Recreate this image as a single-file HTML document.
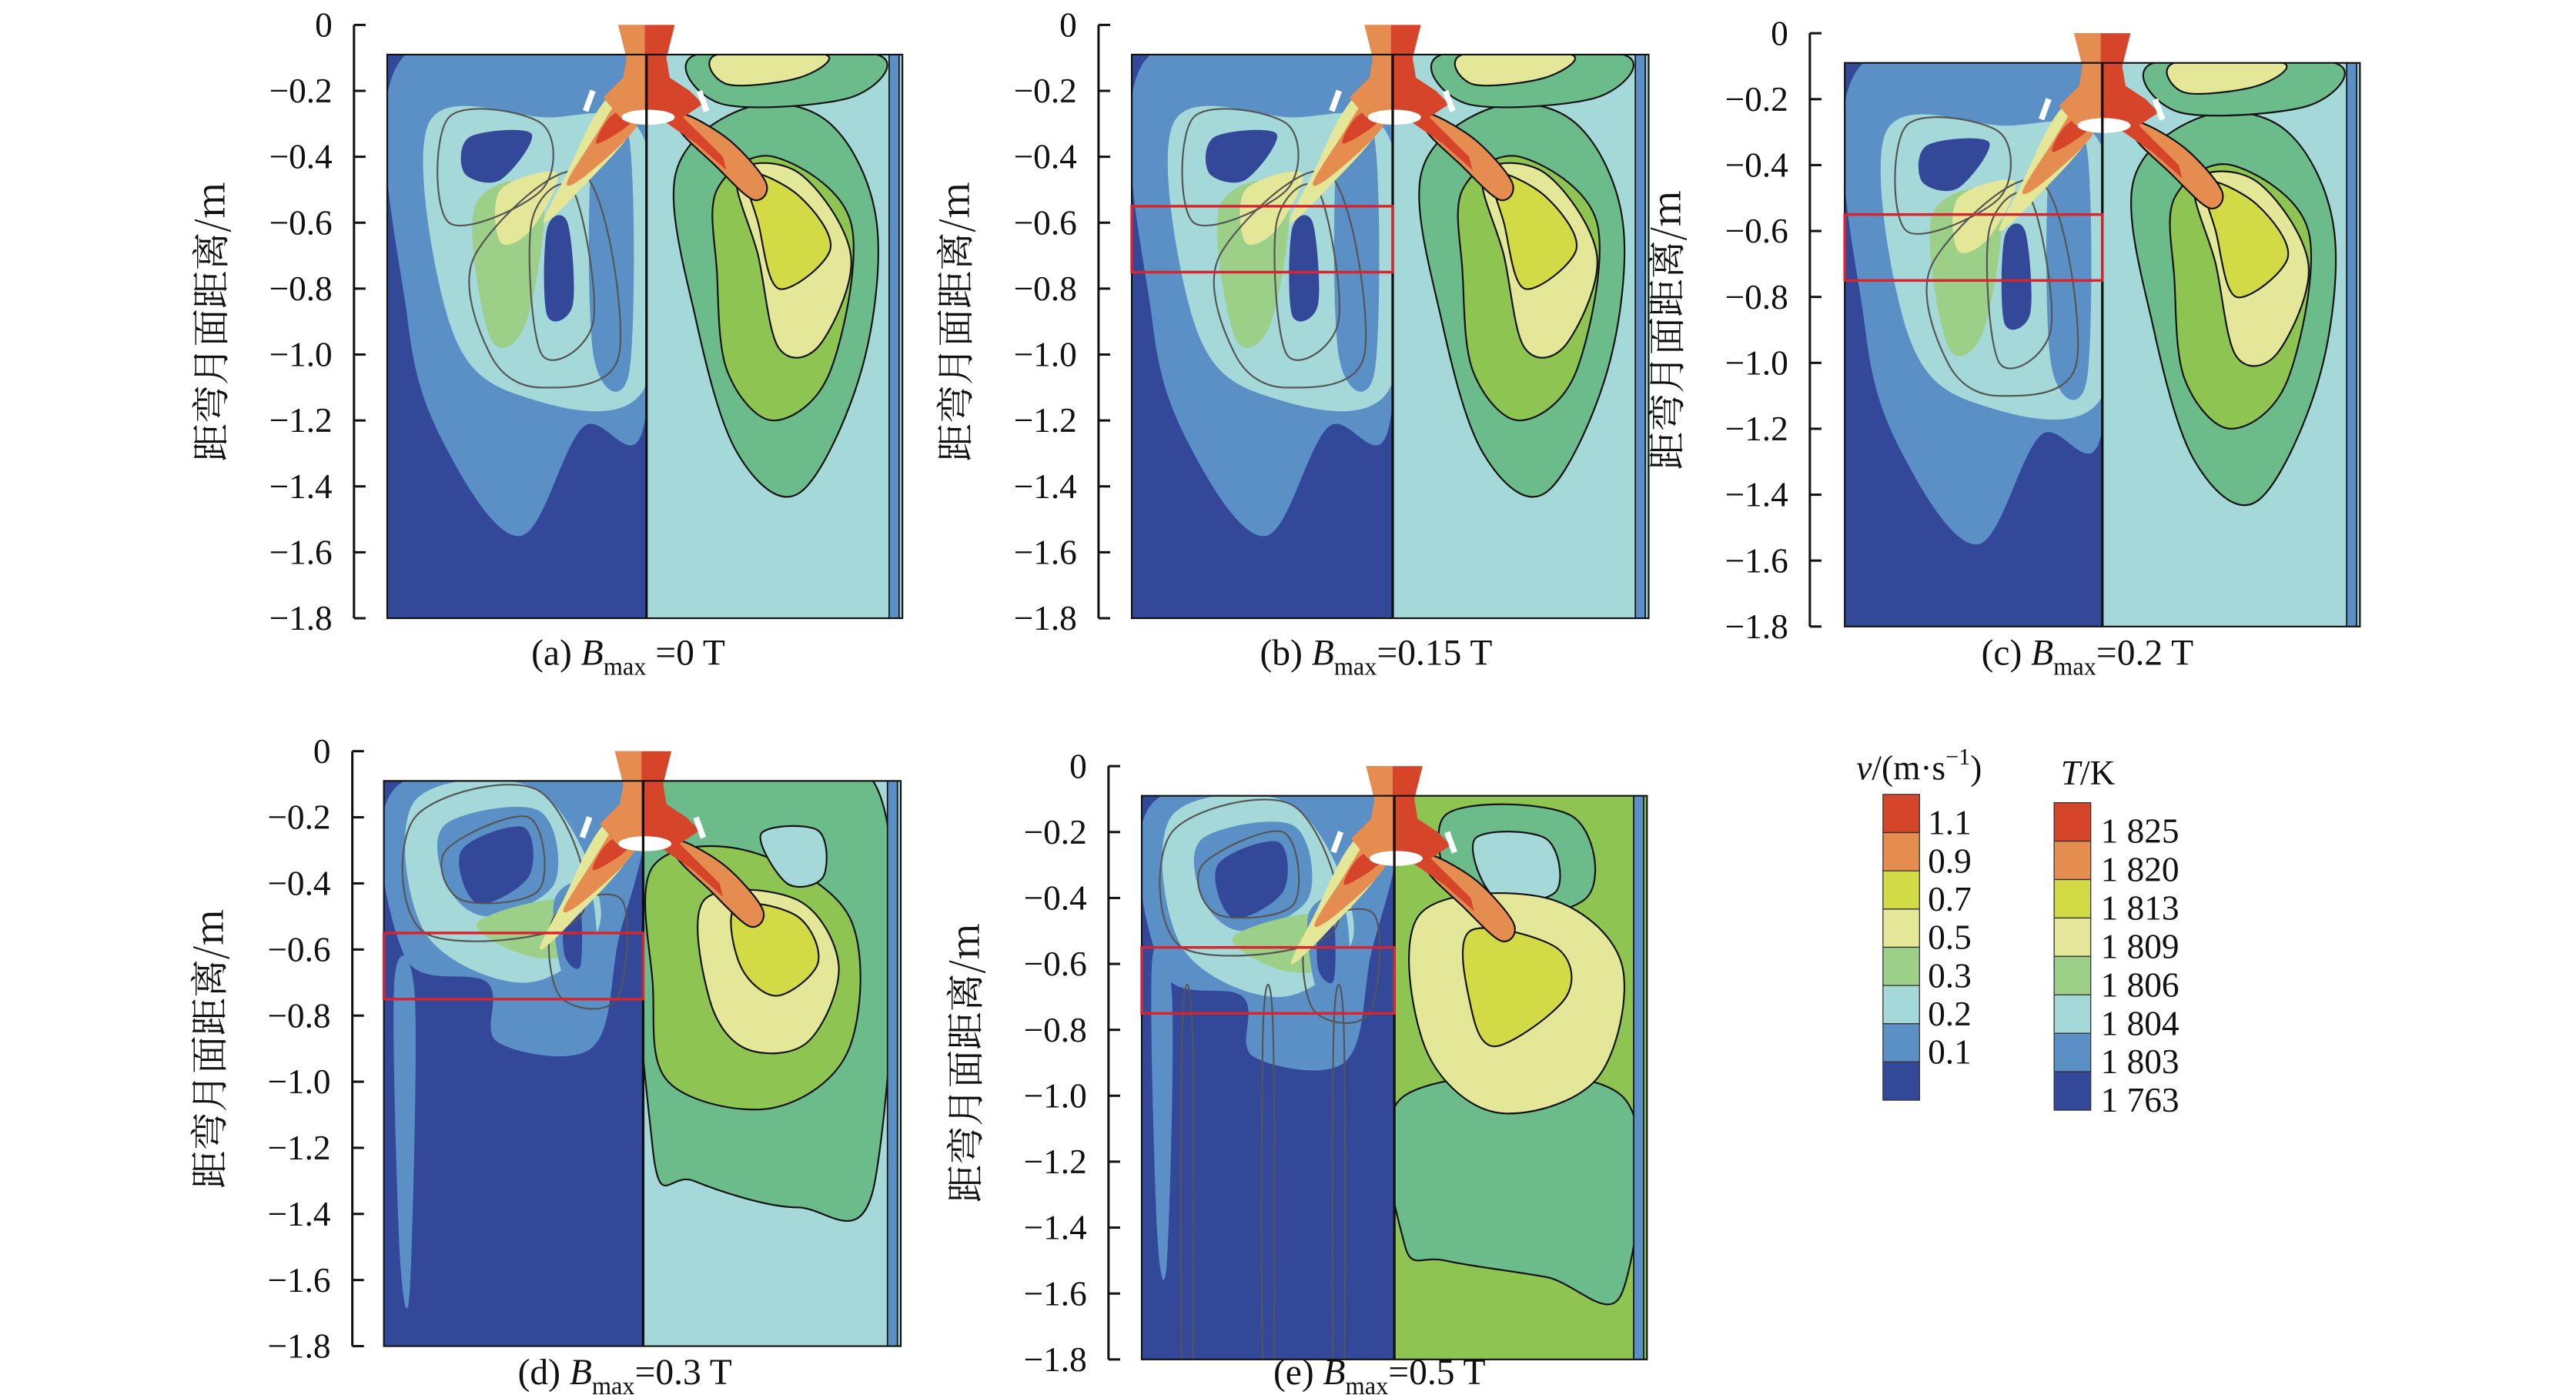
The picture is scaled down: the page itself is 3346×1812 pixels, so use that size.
<!DOCTYPE html>
<html><head><meta charset="utf-8">
<style>
html,body{margin:0;padding:0;background:#fff;}
svg{display:block;}
text{font-family:"Liberation Serif","Noto Serif CJK SC",serif;fill:#111;}
.cjk{font-family:"Noto Serif CJK SC","Noto Sans CJK SC",serif;}
</style></head>
<body>
<svg id="s" xmlns="http://www.w3.org/2000/svg" width="3346" height="1812" viewBox="0 0 1550 839.4" preserveAspectRatio="none"></svg>
<script>
var C={r:"#d6452a",o:"#e58c50",y:"#d2da46",ly:"#e4e797",g:"#9ccf88",c:"#a5d8d8",b:"#5b90c6",d:"#34489a",t:"#6bbb8b",l:"#8ec452"};
var out=[];
function sm(pts){var n=pts.length,s="M"+pts[0][0].toFixed(1)+","+pts[0][1].toFixed(1);
for(var i=0;i<n;i++){var p0=pts[(i-1+n)%n],p1=pts[i],p2=pts[(i+1)%n],p3=pts[(i+2)%n];
s+="C"+(p1[0]+(p2[0]-p0[0])/6).toFixed(1)+","+(p1[1]+(p2[1]-p0[1])/6).toFixed(1)+" "+(p2[0]-(p3[0]-p1[0])/6).toFixed(1)+","+(p2[1]-(p3[1]-p1[1])/6).toFixed(1)+" "+p2[0].toFixed(1)+","+p2[1].toFixed(1);}
return s+"Z";}
function panel(P){
 var ax=P.ax,ox=P.ox,w=P.w,y0=P.y0,y1=P.y1,dv=P.dv;
 var sc=(y1-y0)/1.8;
 function X(u){return ox+u*w;} function Y(m){return y0-m*sc;}
 function T(a){return a.map(function(p){return [X(p[0]),Y(p[1])];});}
 var top=Y(-0.09);
 var id="cp"+P.k;
 out.push('<clipPath id="'+id+'L"><rect x="'+ox+'" y="'+top+'" width="'+(dv-ox)+'" height="'+(y1-top)+'"/></clipPath>');
 out.push('<clipPath id="'+id+'R"><rect x="'+dv+'" y="'+top+'" width="'+(ox+w-dv)+'" height="'+(y1-top)+'"/></clipPath>');
 out.push('<g clip-path="url(#'+id+'L)"><rect x="'+ox+'" y="'+top+'" width="'+(dv-ox)+'" height="'+(y1-top)+'" fill="'+C.d+'"/>');
 P.L.forEach(function(s){out.push('<path d="'+sm(T(s[1]))+'" fill="'+C[s[0]]+'"/>');});
 P.S.forEach(function(s){out.push('<path d="'+sm(T(s))+'" fill="none" stroke="#555" stroke-width="1"/>');});
 out.push('</g>');
 out.push('<g clip-path="url(#'+id+'R)"><rect x="'+dv+'" y="'+top+'" width="'+(ox+w-dv)+'" height="'+(y1-top)+'" fill="'+C[P.rb]+'"/>');
 P.R.forEach(function(s){out.push('<path d="'+sm(T(s[1]))+'" fill="'+C[s[0]]+'" stroke="#111" stroke-width="1"/>');});
 out.push('<rect x="'+(ox+w-8)+'" y="'+top+'" width="6" height="'+(y1-top)+'" fill="'+C.b+'" stroke="#111" stroke-width="0.8"/>');
 out.push('</g>');
 var jx=dv;
 // left jet
 out.push('<path d="'+sm([[jx-6,Y(-0.15)],[jx-6,Y(-0.3)],[jx-40,Y(-0.5)],[jx-62,Y(-0.6)],[jx-48,Y(-0.45)],[jx-28,Y(-0.25)]])+'" fill="'+C.ly+'"/>');
 out.push('<path d="'+sm([[jx-5,Y(-0.17)],[jx-5,Y(-0.3)],[jx-35,Y(-0.45)],[jx-48,Y(-0.48)],[jx-30,Y(-0.33)],[jx-16,Y(-0.22)]])+'" fill="'+C.o+'"/>');
 out.push('<path d="'+sm([[jx-6,Y(-0.24)],[jx-10,Y(-0.3)],[jx-30,Y(-0.36)],[jx-22,Y(-0.28)]])+'" fill="'+C.r+'"/>');
 // right jet
 out.push('<path d="'+sm([[jx+22,Y(-0.27)],[jx+50,Y(-0.35)],[jx+72,Y(-0.48)],[jx+64,Y(-0.53)],[jx+40,Y(-0.42)],[jx+20,Y(-0.32)]])+'" fill="'+C.o+'" stroke="#111" stroke-width="1"/>');
 // nozzle
 var nt=Y(0), nb=Y(-0.1);
 out.push('<path d="M'+(jx-17)+','+nt+'L'+(jx+17)+','+nt+'L'+(jx+12)+','+nb+'L'+(jx+14)+','+Y(-0.16)+'L'+(jx+26)+','+Y(-0.2)+'L'+(jx+34)+','+Y(-0.24)+'L'+(jx+22)+','+Y(-0.28)+'L'+(jx+46)+','+Y(-0.4)+'L'+(jx+48)+','+Y(-0.44)+'L'+(jx+30)+','+Y(-0.36)+'L'+(jx+10)+','+Y(-0.29)+'L'+jx+','+Y(-0.28)+'L'+(jx-16)+','+Y(-0.28)+'L'+(jx-26)+','+Y(-0.22)+'L'+(jx-14)+','+Y(-0.16)+'L'+(jx-12)+','+nb+'Z" fill="'+C.r+'"/>');
 out.push('<path d="M'+(jx-17)+','+nt+'L'+(jx-1)+','+nt+'L'+(jx-1)+','+Y(-0.27)+'L'+(jx-16)+','+Y(-0.28)+'L'+(jx-26)+','+Y(-0.22)+'L'+(jx-14)+','+Y(-0.16)+'L'+(jx-12)+','+nb+'Z" fill="'+C.o+'"/>');
 out.push('<ellipse cx="'+(jx+1)+'" cy="'+Y(-0.28)+'" rx="16" ry="4.5" fill="#fff"/>');
 out.push('<rect x="'+(jx-34)+'" y="'+Y(-0.2)+'" width="3.5" height="13" fill="#fff" transform="rotate(20 '+(jx-32)+' '+Y(-0.2)+')"/>');
 out.push('<rect x="'+(jx+30)+'" y="'+Y(-0.2)+'" width="3.5" height="13" fill="#fff" transform="rotate(-20 '+(jx+32)+' '+Y(-0.2)+')"/>');
 out.push('<rect x="'+ox+'" y="'+top+'" width="'+w+'" height="'+(y1-top)+'" fill="none" stroke="#111" stroke-width="1"/>');
 out.push('<line x1="'+dv+'" y1="'+top+'" x2="'+dv+'" y2="'+y1+'" stroke="#111" stroke-width="1.5"/>');
 if(P.box) out.push('<rect x="'+ox+'" y="'+Y(-0.55)+'" width="'+(dv-ox)+'" height="'+(Y(-0.75)-Y(-0.55))+'" fill="none" stroke="#d5252f" stroke-width="1.6"/>');
 out.push('<line x1="'+ax+'" y1="'+y0+'" x2="'+ax+'" y2="'+y1+'" stroke="#111" stroke-width="1.4"/>');
 for(var i=0;i<=9;i++){var m=-0.2*i,yy=Y(m);
  out.push('<line x1="'+ax+'" y1="'+yy+'" x2="'+(ax+7)+'" y2="'+yy+'" stroke="#111" stroke-width="1.4"/>');
  out.push('<text x="'+(ax-13)+'" y="'+(yy+7)+'" font-size="21" text-anchor="end">'+(i==0?"0":"\u2212"+(0.2*i).toFixed(1))+'</text>');}
 var my=(y0+y1)/2;
 out.push('<text class="cjk" x="0" y="0" font-size="23" text-anchor="middle" transform="translate('+(ax-78)+','+my+') rotate(-90)">距弯月面距离/m</text>');
 out.push('<text x="'+P.cx+'" y="'+P.cy+'" font-size="22" text-anchor="middle">'+P.lab+' <tspan font-style="italic">B</tspan><tspan font-size="15" dy="6">max</tspan><tspan dy="-6">'+P.val+'</tspan></text>');
}
var LA=[["b",[[0.03,-0.1],[0.5,-0.1],[0.5,-1.2],[0.38,-1.22],[0.26,-1.55],[0.12,-1.3],[0.04,-0.9]]],
 ["c",[[0.08,-0.3],[0.3,-0.28],[0.5,-0.35],[0.5,-1.1],[0.25,-1.12],[0.12,-0.9]]],
 ["b",[[0.4,-0.35],[0.47,-0.35],[0.47,-1.05],[0.4,-1.0]]],
 ["g",[[0.17,-0.55],[0.3,-0.5],[0.27,-0.9],[0.2,-0.95]]],
 ["ly",[[0.22,-0.5],[0.33,-0.45],[0.28,-0.62],[0.22,-0.66]]],
 ["d",[[0.16,-0.34],[0.28,-0.33],[0.22,-0.47],[0.15,-0.45]]],
 ["d",[[0.31,-0.62],[0.35,-0.6],[0.36,-0.85],[0.31,-0.88]]]];
var SA=[[[0.12,-0.28],[0.3,-0.3],[0.3,-0.5],[0.12,-0.6]],[[0.17,-0.7],[0.38,-0.45],[0.45,-1.0],[0.3,-1.1],[0.2,-1.0]],[[0.28,-0.6],[0.36,-0.5],[0.4,-0.9],[0.3,-1.0]]];
var RA=[["t",[[0.56,-0.45],[0.7,-0.25],[0.86,-0.3],[0.95,-0.6],[0.92,-1.05],[0.8,-1.42],[0.68,-1.3],[0.6,-0.9]]],
 ["l",[[0.64,-0.5],[0.75,-0.4],[0.9,-0.6],[0.86,-1.05],[0.75,-1.2],[0.66,-1.05],[0.64,-0.75]]],
 ["ly",[[0.68,-0.45],[0.8,-0.45],[0.9,-0.7],[0.84,-0.97],[0.76,-0.98],[0.72,-0.7]]],
 ["y",[[0.7,-0.45],[0.8,-0.52],[0.86,-0.68],[0.76,-0.8],[0.72,-0.6]]],
 ["t",[[0.6,-0.09],[0.95,-0.09],[0.9,-0.22],[0.65,-0.24]]],
 ["ly",[[0.64,-0.09],[0.85,-0.09],[0.8,-0.16],[0.66,-0.18]]]];
var LD=[["b",[[0.03,-0.1],[0.48,-0.1],[0.45,-0.6],[0.4,-0.9],[0.22,-0.88],[0.2,-0.7],[0.04,-0.62]]],
 ["b",[[0.02,-0.7],[0.06,-0.75],[0.05,-1.63],[0.03,-1.5]]],
 ["c",[[0.06,-0.15],[0.3,-0.12],[0.42,-0.5],[0.28,-0.7],[0.08,-0.55]]],
 ["b",[[0.12,-0.22],[0.3,-0.18],[0.33,-0.4],[0.2,-0.5],[0.12,-0.4]]],
 ["g",[[0.18,-0.52],[0.35,-0.45],[0.38,-0.6],[0.28,-0.62]]],
 ["d",[[0.15,-0.3],[0.27,-0.23],[0.28,-0.38],[0.18,-0.46]]],
 ["b",[[0.33,-0.45],[0.4,-0.42],[0.41,-0.75],[0.35,-0.7]]],
 ["d",[[0.35,-0.5],[0.38,-0.48],[0.38,-0.65],[0.35,-0.62]]]];
var SD=[[[0.06,-0.2],[0.3,-0.12],[0.38,-0.5],[0.08,-0.55]],[[0.12,-0.3],[0.28,-0.2],[0.3,-0.42],[0.15,-0.45]],[[0.33,-0.5],[0.46,-0.45],[0.45,-0.75],[0.34,-0.74]]];
var RD=[["t",[[0.52,-0.1],[0.95,-0.1],[0.95,-1.3],[0.8,-1.38],[0.6,-1.3],[0.52,-1.2]]],
 ["l",[[0.52,-0.35],[0.7,-0.3],[0.9,-0.5],[0.9,-0.9],[0.75,-1.08],[0.55,-1.0],[0.52,-0.7]]],
 ["ly",[[0.62,-0.45],[0.8,-0.45],[0.88,-0.65],[0.82,-0.88],[0.7,-0.9],[0.63,-0.75]]],
 ["y",[[0.68,-0.47],[0.8,-0.5],[0.84,-0.64],[0.76,-0.74],[0.69,-0.65]]],
 ["c",[[0.73,-0.25],[0.84,-0.24],[0.85,-0.38],[0.78,-0.4]]]];
var LE=LD.slice(0,1).concat([["b",[[0.02,-0.6],[0.06,-0.7],[0.05,-1.5],[0.03,-1.4]]]]).concat(LD.slice(2));
var RE=[["t",[[0.52,-1.0],[0.95,-1.0],[0.95,-1.6],[0.8,-1.55],[0.6,-1.5],[0.52,-1.45]]]].concat([["t",[[0.6,-0.15],[0.85,-0.15],[0.88,-0.4],[0.65,-0.45]]],["c",[[0.66,-0.22],[0.8,-0.22],[0.82,-0.38],[0.7,-0.4]]],
 ["ly",[[0.55,-0.45],[0.8,-0.4],[0.95,-0.6],[0.9,-0.95],[0.7,-1.05],[0.56,-0.85]]],["y",[[0.65,-0.5],[0.82,-0.55],[0.84,-0.7],[0.7,-0.85],[0.65,-0.72]]]]);
var SE=SD.concat([[[0.08,-0.8],[0.1,-0.8],[0.1,-1.9],[0.08,-1.9]],[[0.24,-0.8],[0.26,-0.8],[0.26,-1.9],[0.24,-1.9]],[[0.38,-0.8],[0.4,-0.8],[0.4,-1.9],[0.38,-1.9]]]);
panel({k:"a",ax:213,ox:233,w:310,y0:15,y1:372,dv:389,L:LA,S:SA,R:RA,rb:"c",cx:378,cy:400,lab:"(a)",val:" =0 T"});
panel({k:"b",ax:661,ox:681,w:311,y0:15,y1:372,dv:838,L:LA,S:SA,R:RA,rb:"c",box:1,cx:828,cy:400,lab:"(b)",val:"=0.15 T"});
panel({k:"c",ax:1089,ox:1110,w:310,y0:20,y1:377,dv:1265,L:LA,S:SA,R:RA,rb:"c",box:1,cx:1256,cy:400,lab:"(c)",val:"=0.2 T"});
panel({k:"d",ax:212,ox:231,w:311,y0:452,y1:810,dv:387,L:LD,S:SD,R:RD,rb:"c",box:1,cx:376,cy:833,lab:"(d)",val:"=0.3 T"});
panel({k:"e",ax:667,ox:687,w:304,y0:461,y1:818,dv:839,L:LE,S:SE,R:RE,rb:"l",box:1,cx:830,cy:833,lab:"(e)",val:"=0.5 T"});
function leg(x,y,h,cols,labs,lx){var n=cols.length,hh=h/n;
 for(var i=0;i<n;i++){out.push('<rect x="'+x+'" y="'+(y+i*hh)+'" width="22" height="'+hh+'" fill="'+cols[i]+'" stroke="#333" stroke-width="0.6"/>');}
 labs.forEach(function(t,i){out.push('<text x="'+lx+'" y="'+(y+i*hh+hh+1)+'" font-size="21">'+t+'</text>');});}
leg(1133,478,184,[C.r,C.o,C.y,C.ly,C.g,C.c,C.b,C.d],["1.1","0.9","0.7","0.5","0.3","0.2","0.1"],1160);
leg(1236,483,185,[C.r,C.o,C.y,C.ly,C.g,C.c,C.b,C.d],["1 825","1 820","1 813","1 809","1 806","1 804","1 803","1 763"],1264);
out.push('<text x="1117" y="469" font-size="21"><tspan font-style="italic">v</tspan>/(m·s<tspan font-size="14" dy="-9">−1</tspan><tspan dy="9">)</tspan></text>');
out.push('<text x="1240" y="472" font-size="21"><tspan font-style="italic">T</tspan>/K</text>');
document.getElementById("s").innerHTML=out.join("");
</script>
</body></html>
